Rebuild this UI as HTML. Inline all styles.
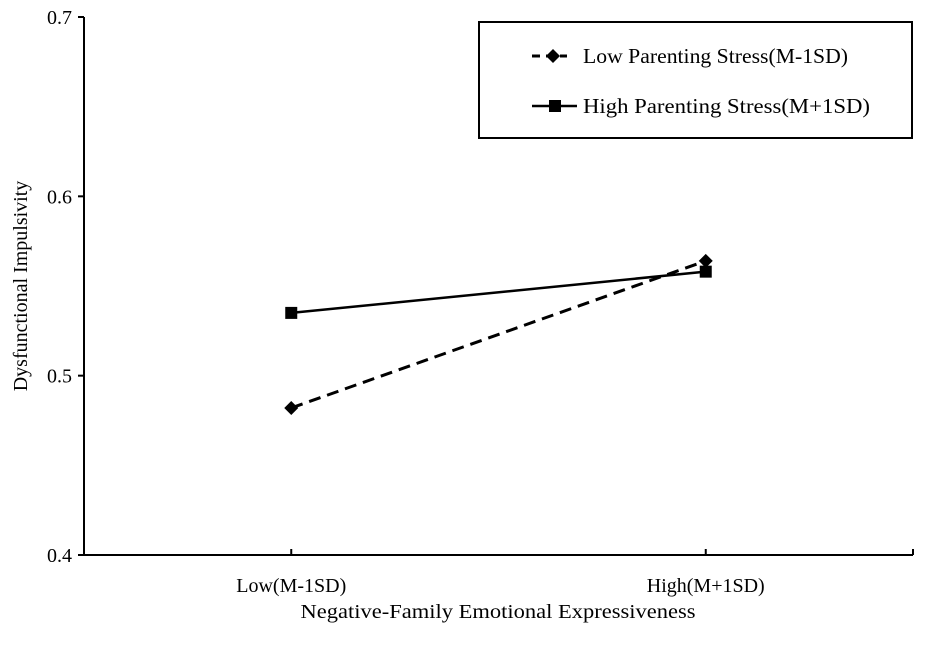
<!DOCTYPE html>
<html><head><meta charset="utf-8"><style>
body{margin:0;background:#fff;}
svg text{font-family:"Liberation Serif",serif;fill:#000;}
</style></head><body>
<svg id="c" width="935" height="640">
<g id="g"></g>
</svg>
<script>
const categories=["Low(M-1SD)","High(M+1SD)"];
const lowStress=[0.482,0.564];
const highStress=[0.535,0.558];
const yTicks=[0.4,0.5,0.6,0.7];
const yTickLabels=["0.4","0.5","0.6","0.7"];
const NS="http://www.w3.org/2000/svg";
const g=document.getElementById('g');
const x0=84,x1=913,yTop=17,yBot=555,ymin=0.4,ymax=0.7;
function X(i){return x0+(x1-x0)*(i+0.5)/categories.length;}
function Y(v){return yBot-(v-ymin)/(ymax-ymin)*(yBot-yTop);}
function el(t,a,txt){const e=document.createElementNS(NS,t);for(const k in a)e.setAttribute(k,a[k]);if(txt!==undefined)e.textContent=txt;g.appendChild(e);return e;}
let e;
e=el('line',{x1:x0,y1:yTop,x2:x0,y2:yBot,stroke:'#000','stroke-width':2});


e=el('line',{x1:x0,y1:yBot,x2:x1,y2:yBot,stroke:'#000','stroke-width':2});


yTicks.forEach((t,i)=>{
 e=el('line',{x1:x0-6,y1:Y(t),x2:x0,y2:Y(t),stroke:'#000','stroke-width':2});
 
 
 e=el('text',{x:x0-12,y:Y(t)+7,'text-anchor':'end','font-size':20},yTickLabels[i]);
 
 
});
categories.forEach((c,i)=>{
 e=el('line',{x1:X(i),y1:yBot-6,x2:X(i),y2:yBot,stroke:'#000','stroke-width':2});
 
 
 e=el('text',{x:X(i),y:yBot+37,'text-anchor':'middle','font-size':20},c);
 
 
});
e=el('line',{x1:x1,y1:yBot-6,x2:x1,y2:yBot,stroke:'#000','stroke-width':2});


e=el('text',{x:498,y:yBot+63,'text-anchor':'middle','font-size':20,textLength:395,lengthAdjust:'spacingAndGlyphs'},'Negative-Family Emotional Expressiveness');


e=el('text',{x:0,y:0,'text-anchor':'middle','font-size':20,transform:'translate(27,286) rotate(-90)'},'Dysfunctional Impulsivity');


e=el('polyline',{points:highStress.map((v,i)=>X(i)+','+Y(v)).join(' '),fill:'none',stroke:'#000','stroke-width':2.5});


highStress.forEach((v,i)=>{
 e=el('rect',{x:X(i)-6,y:Y(v)-6,width:12,height:12,fill:'#000'});
 
 
});
e=el('polyline',{points:lowStress.map((v,i)=>X(i)+','+Y(v)).join(' '),fill:'none',stroke:'#000','stroke-width':3,'stroke-dasharray':'12,7'});


lowStress.forEach((v,i)=>{
 const cx=X(i),cy=Y(v);
 e=el('polygon',{points:`${cx},${cy-7} ${cx+7},${cy} ${cx},${cy+7} ${cx-7},${cy}`,fill:'#000'});
 
 
});
e=el('rect',{x:479,y:22,width:433,height:116,fill:'none',stroke:'#000','stroke-width':2});


e=el('line',{x1:532,y1:56,x2:567,y2:56,stroke:'#000','stroke-width':3,'stroke-dasharray':'8,6'});


e=el('polygon',{points:'553,49 560,56 553,63 546,56',fill:'#000'});


e=el('text',{x:583,y:63,'font-size':21,textLength:265,lengthAdjust:'spacingAndGlyphs'},'Low Parenting Stress(M-1SD)');


e=el('line',{x1:532,y1:106,x2:577,y2:106,stroke:'#000','stroke-width':2.5});


e=el('rect',{x:549,y:100,width:12,height:12,fill:'#000'});


e=el('text',{x:583,y:113,'font-size':21,textLength:287,lengthAdjust:'spacingAndGlyphs'},'High Parenting Stress(M+1SD)');


</script>
</body></html>
